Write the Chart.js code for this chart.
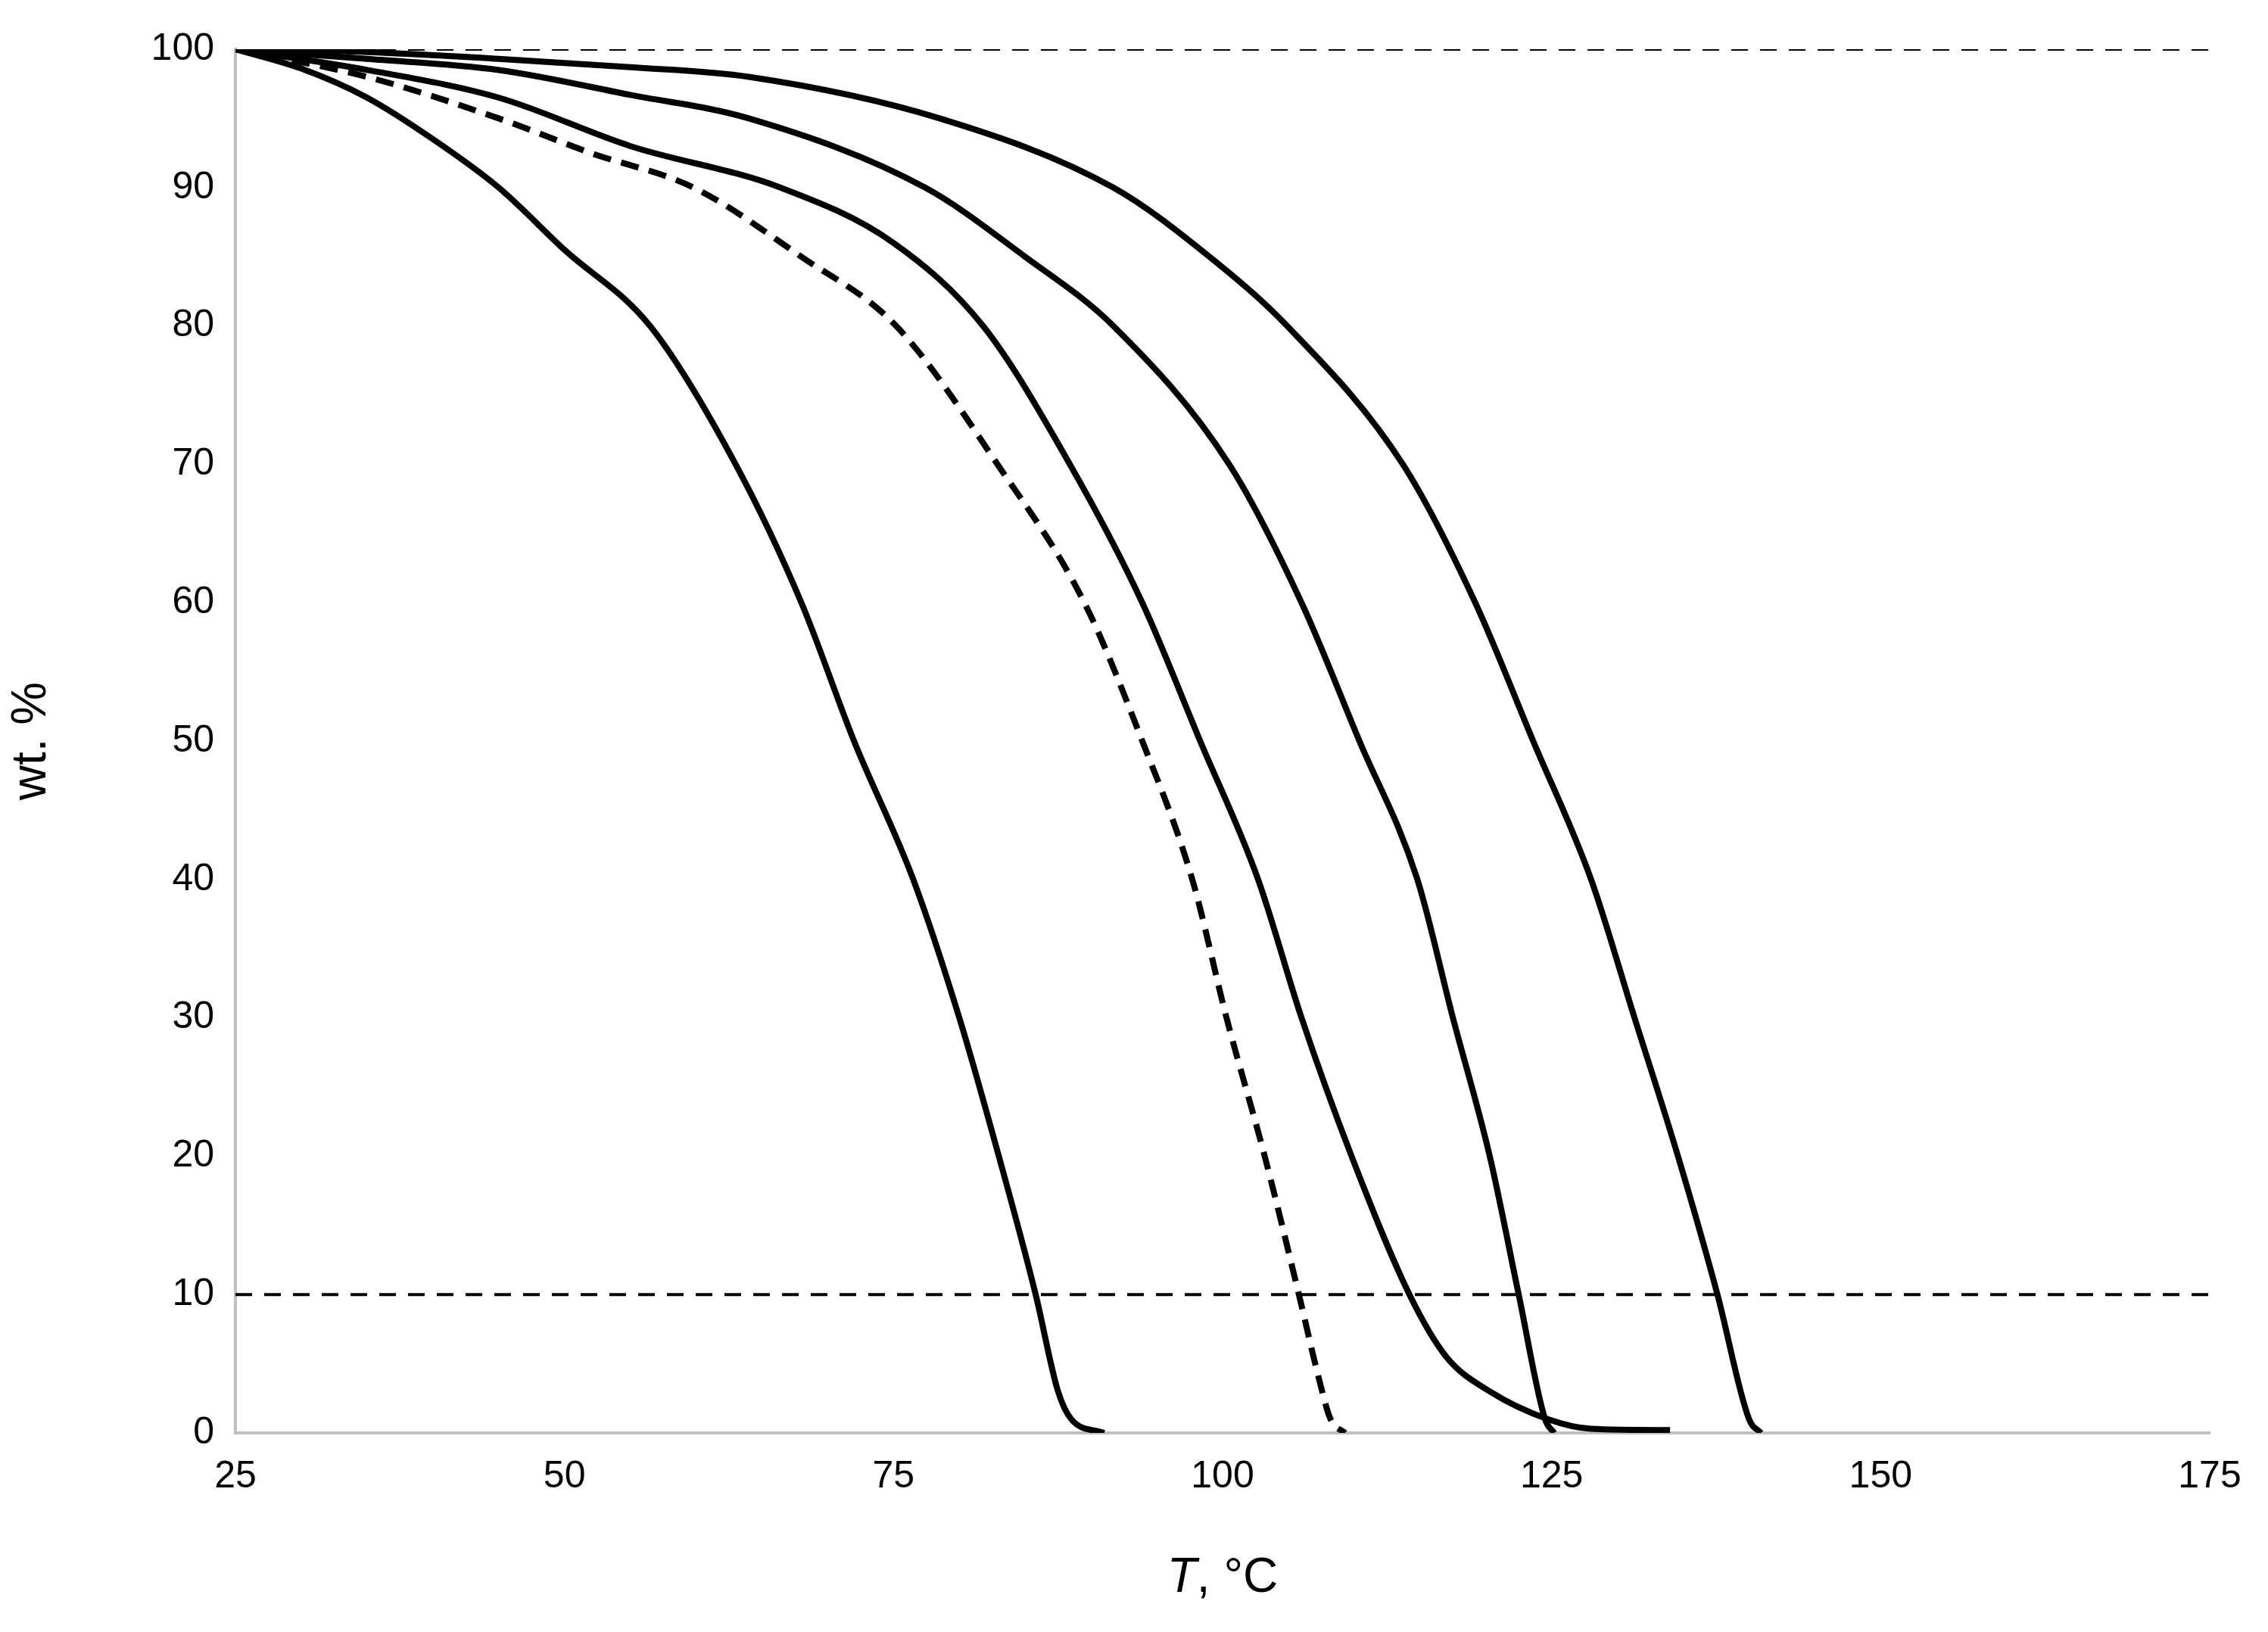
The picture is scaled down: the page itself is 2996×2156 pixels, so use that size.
<!DOCTYPE html>
<html><head><meta charset="utf-8">
<script src="https://cdn.jsdelivr.net/npm/chart.js@4"></script>
<style>html,body{margin:0;background:#fff}#wrap{width:2996px;height:2156px}</style>
</head><body><div id="wrap"><canvas id="c"></canvas></div>
<script>
// Sample curves, [T °C, wt. %]
const curveA = [[25,100],[30,98.6],[35,96.5],[40,93.5],[45,90],[50,85.5],[56.5,80],[63,70],[68,60],[72,50],[76.5,40],[80,30],[83,20],[85.8,10],[87.5,3],[88.5,1],[91,0]];
const curveDashed = [[25,100],[35,98],[45,95],[52,92.5],[59.8,90],[68,85],[75.2,80],[82.9,70],[89.5,60],[93.9,50],[97.7,40],[100.3,30],[103.2,20],[105.8,10],[107.3,4],[108.2,1],[109.3,0]];
const curveB = [[25,100],[35,98.5],[45,96.5],[55,93],[66.4,90],[75,86],[81.8,80],[88.4,70],[93.9,60],[98.3,50],[102.7,40],[106,30],[109.8,20],[114.2,10],[117,5.5],[120.3,3],[124.7,1],[128,0.3],[134,0.2]];
const curveC = [[25,100],[35,99.3],[45,98.5],[55,96.7],[64,95],[77.4,90],[85,85],[91.7,80],[100.5,70],[106,60],[110.4,50],[114.8,40],[117.5,30],[120.3,20],[122.5,10],[124.5,1],[125.2,0]];
const curveD = [[25,100],[35,99.8],[45,99.3],[55,98.7],[64,98],[78.5,95],[91.7,90],[99,85],[104.9,80],[113.7,70],[119.2,60],[123.6,50],[128,40],[131.3,30],[134.6,20],[137.6,10],[140,1],[140.9,0]];
const refLevels = [100, 10];
const xTicks = [25, 50, 75, 100, 125, 150, 175];

const pts = (c) => c.map(([x, y]) => ({ x, y }));
const solid = (c) => ({ data: pts(c), borderColor: '#000', borderWidth: 8, pointRadius: 0, cubicInterpolationMode: 'monotone', fill: false });

const datasets = [
  solid(curveA),
  { ...solid(curveDashed), borderDash: [24, 14] },
  solid(curveB), solid(curveC), solid(curveD),
  ...refLevels.map((v) => ({ data: [{ x: 25, y: v }, { x: 175, y: v }], borderColor: '#000', borderWidth: 4, borderDash: [22, 16], pointRadius: 0 })),
];

const xTitle = {
  id: 'xTitle',
  afterDraw(chart) {
    const { ctx, chartArea: a } = chart;
    ctx.save();
    ctx.fillStyle = '#000';
    ctx.textBaseline = 'alphabetic';
    const y = a.bottom + 210;
    ctx.font = 'italic 64px "Liberation Sans", Arial';
    const t = 'T';
    const rest = ', °C';
    const wT = ctx.measureText(t).width;
    ctx.font = '64px "Liberation Sans", Arial';
    const wR = ctx.measureText(rest).width;
    const x0 = (a.left + a.right) / 2 - (wT + wR) / 2;
    ctx.font = 'italic 64px "Liberation Sans", Arial';
    ctx.fillText(t, x0, y);
    ctx.font = '64px "Liberation Sans", Arial';
    ctx.fillText(rest, x0 + wT, y);
    ctx.restore();
  },
};

new Chart(document.getElementById('c'), {
  type: 'line',
  data: { datasets },
  plugins: [xTitle],
  options: {
    responsive: true, maintainAspectRatio: false, animation: false, devicePixelRatio: 1,
    layout: { padding: { top: 65, right: 77, left: 0, bottom: 0 } },
    plugins: { legend: { display: false }, tooltip: { enabled: false } },
    scales: {
      x: {
        type: 'linear', min: 25, max: 175,
        afterBuildTicks: (s) => { s.ticks = xTicks.map((v) => ({ value: v })); },
        afterFit: (s) => { s.height = 263; },
        grid: { display: false, drawTicks: false },
        border: { color: '#bfbfbf', width: 4 },
        ticks: { color: '#000', padding: 28, font: { size: 50, family: '"Liberation Sans", Arial' } },
      },
      y: {
        min: 0, max: 100,
        afterFit: (s) => { s.width = 311; },
        grid: { display: false, drawTicks: false },
        border: { color: '#bfbfbf', width: 4 },
        ticks: { stepSize: 10, color: '#000', padding: 28, font: { size: 50, family: '"Liberation Sans", Arial' } },
        title: { display: true, text: 'wt. %', color: '#000', padding: { bottom: 40 }, font: { size: 64, family: '"Liberation Sans", Arial' } },
      },
    },
  },
});
</script></body></html>
